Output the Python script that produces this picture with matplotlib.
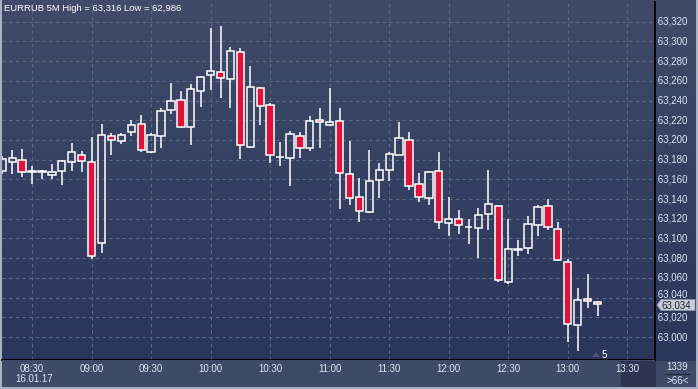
import numpy as np
import matplotlib
matplotlib.use("Agg")
import matplotlib.pyplot as plt
from matplotlib.patches import Rectangle, Polygon
from matplotlib.colors import LinearSegmentedColormap

# EURRUB 5 minute candles, 08:15 .. 13:15 on 16.01.17
opens = [63.168, 63.178, 63.180, 63.167, 63.167, 63.164, 63.168, 63.178, 63.185, 63.178,
         63.095, 63.204, 63.199, 63.208, 63.216, 63.188, 63.204, 63.230, 63.241, 63.213,
         63.250, 63.266, 63.269, 63.262, 63.289, 63.193, 63.253, 63.235, 63.183, 63.182,
         63.204, 63.192, 63.220, 63.215, 63.219, 63.165, 63.142, 63.127, 63.159, 63.169,
         63.185, 63.200, 63.155, 63.141, 63.168, 63.116, 63.120, 63.112, 63.111, 63.125,
         63.133, 63.056, 63.088, 63.090, 63.114, 63.133, 63.110, 63.076, 63.012, 63.039,
         63.036]
highs = [63.184, 63.190, 63.191, 63.174, 63.170, 63.176, 63.180, 63.197, 63.189, 63.203,
         63.216, 63.207, 63.207, 63.220, 63.225, 63.207, 63.232, 63.258, 63.250, 63.257,
         63.265, 63.314, 63.316, 63.294, 63.293, 63.275, 63.254, 63.238, 63.198, 63.209,
         63.208, 63.224, 63.232, 63.253, 63.232, 63.199, 63.161, 63.190, 63.177, 63.188,
         63.218, 63.208, 63.166, 63.168, 63.188, 63.142, 63.129, 63.120, 63.131, 63.169,
         63.134, 63.120, 63.098, 63.123, 63.134, 63.140, 63.117, 63.079, 63.050, 63.064,
         63.037]
lows = [63.165, 63.165, 63.162, 63.155, 63.160, 63.160, 63.154, 63.168, 63.167, 63.079,
        63.085, 63.185, 63.196, 63.204, 63.188, 63.187, 63.192, 63.226, 63.212, 63.195,
        63.233, 63.251, 63.243, 63.232, 63.181, 63.192, 63.215, 63.177, 63.174, 63.153,
        63.182, 63.189, 63.192, 63.214, 63.130, 63.134, 63.117, 63.126, 63.141, 63.158,
        63.185, 63.149, 63.137, 63.134, 63.110, 63.103, 63.105, 63.094, 63.080, 63.109,
        63.056, 63.054, 63.082, 63.084, 63.103, 63.109, 63.077, 62.995, 62.986, 63.029,
        63.021]
closes = [63.181, 63.182, 63.167, 63.168, 63.168, 63.167, 63.179, 63.188, 63.179, 63.082,
          63.205, 63.200, 63.205, 63.215, 63.190, 63.205, 63.229, 63.240, 63.213, 63.252,
          63.264, 63.270, 63.263, 63.290, 63.195, 63.254, 63.234, 63.185, 63.183, 63.206,
          63.192, 63.219, 63.218, 63.218, 63.166, 63.141, 63.128, 63.158, 63.170, 63.186,
          63.202, 63.153, 63.142, 63.167, 63.117, 63.120, 63.114, 63.112, 63.124, 63.135,
          63.058, 63.089, 63.089, 63.115, 63.132, 63.112, 63.078, 63.013, 63.038, 63.037,
          63.034]

time_labels = ["08:30", "09:00", "09:30", "10:00", "10:30", "11:00",
               "11:30", "12:00", "12:30", "13:00", "13:30"]
time_pos = [3, 9, 15, 21, 27, 33, 39, 45, 51, 57, 63]   # candle index of each label
price_ticks = [63.000 + 0.020 * i for i in range(17)]

title = "EURRUB 5M High = 63,316 Low = 62,986"
date_label = "16.01.17"
last_price = "63,034"

W, H = 698, 389
def fx(px):
    return px / W
def fy(py):
    return 1 - py / H

plt.rcParams['font.family'] = ['Liberation Sans', 'DejaVu Sans']
txt_col = '#dce6f6'
grid_col = '#5b6884'
red = '#dc143c'

fig = plt.figure(figsize=(W / 100, H / 100), dpi=100)
fig.patch.set_facecolor('#a9b2c3')

# background gradient
bg = fig.add_axes([fx(2), fy(387), fx(696) - fx(2), fy(0) - fy(387)])
grad = np.linspace(0, 1, 256).reshape(-1, 1)
cmap = LinearSegmentedColormap.from_list('bg', ['#3f4b68', '#29345a'])
bg.imshow(grad, aspect='auto', cmap=cmap, extent=[0, 1, 0, 1], origin='upper')
bg.set_axis_off()

# time axis band
fig.patches.append(Rectangle((fx(2), fy(387)), fx(655) - fx(2), fy(360) - fy(387),
                             transform=fig.transFigure, facecolor='#3e4b68', edgecolor='none', zorder=0.5))
fig.patches.append(Rectangle((fx(621), fy(387)), fx(655) - fx(621), fy(361) - fy(387),
                             transform=fig.transFigure, facecolor='#2b3550', edgecolor='none', zorder=0.6))
fig.patches.append(Rectangle((fx(656), fy(387)), fx(696) - fx(656), fy(361) - fy(387),
                             transform=fig.transFigure, facecolor='#3e4b68', edgecolor='none', zorder=0.5))

ax = fig.add_axes([fx(2), fy(360), fx(655) - fx(2), fy(2) - fy(360)])
ax.set_facecolor('none')
px_per_candle = 9.92
x0 = 2.3
ax.set_xlim((2 - x0) / px_per_candle, (655 - x0) / px_per_candle)
ax.set_ylim(63.320 - (360 - 21.7) / 985.4, 63.320 + (21.7 - 2) / 985.4)

for p in price_ticks:
    ax.axhline(p, color=grid_col, lw=0.8, ls=(0, (3, 3)), zorder=1)
for t in time_pos:
    ax.axvline(t, color=grid_col, lw=0.8, ls=(0, (3, 3)), zorder=1)

for k in range(len(opens)):
    o, h, l, c = opens[k], highs[k], lows[k], closes[k]
    top, bot = max(o, c), min(o, c)
    ax.vlines(k, top, h, color='white', lw=1.1, zorder=2)
    ax.vlines(k, l, bot, color='white', lw=1.1, zorder=2)
    fc = red if c < o else 'none'
    ax.add_patch(Rectangle((k - 0.37, bot), 0.74, top - bot, facecolor=fc,
                           edgecolor='white', lw=1.1, zorder=3))

for s in ['top', 'left']:
    ax.spines[s].set_visible(False)
ax.spines['right'].set_color('black')
ax.spines['bottom'].set_color('black')
ax.spines['right'].set_linewidth(1.3)
ax.spines['bottom'].set_linewidth(1.3)
ax.set_xticks([])
ax.set_yticks([])

# price labels
for p in price_ticks:
    lab = f"{p:.3f}".replace('.', ',')
    if lab == "63,040":
        # mostly hidden behind the last price tag
        ax.text(1.0, p + 0.0035, " " + lab, transform=ax.get_yaxis_transform(), ha='left',
                va='center', fontsize=7, color=txt_col, clip_on=False, zorder=1)
        continue
    ax.text(1.0, p, " " + lab, transform=ax.get_yaxis_transform(), ha='left', va='center',
            fontsize=7, color=txt_col, clip_on=False)

# time labels
for t, lab in zip(time_pos, time_labels):
    fig.text(fx(x0 + px_per_candle * t), fy(368.5), lab, ha='center', va='center',
             fontsize=7, color=txt_col, zorder=1)
fig.text(fx(34), fy(379.5), date_label, ha='center', va='center', fontsize=7, color=txt_col)

fig.text(fx(4), fy(8.5), title, ha='left', va='center', fontsize=6.8, color='white')

# last price tag
tag = Polygon([(fx(657), fy(305)), (fx(661), fy(299.5)), (fx(695), fy(299.5)),
               (fx(695), fy(310.5)), (fx(661), fy(310.5))], closed=True,
              transform=fig.transFigure, facecolor='#c9cdd6', edgecolor='#8a93a6', lw=0.6, zorder=5)
fig.patches.append(tag)
fig.text(fx(661), fy(305.2), last_price, ha='left', va='center', fontsize=7,
         color='#1b2236', zorder=6)

# marker and counter
fig.patches.append(Polygon([(fx(592), fy(357)), (fx(596), fy(352)), (fx(600), fy(357))],
                           closed=True, transform=fig.transFigure, facecolor='#4a5570',
                           edgecolor='none', zorder=4))
fig.text(fx(604.5), fy(355), "5", ha='center', va='center', fontsize=7, color='white')

fig.text(fx(677.5), fy(367), "1339", ha='center', va='center', fontsize=7, color=txt_col)
fig.add_artist(plt.Line2D([fx(665), fx(690)], [fy(374), fy(374)], color='#222a3a', lw=0.8))
fig.text(fx(677.5), fy(381), ">66<", ha='center', va='center', fontsize=7, color=txt_col)

fig.savefig("out.png", dpi=100, facecolor=fig.get_facecolor())
